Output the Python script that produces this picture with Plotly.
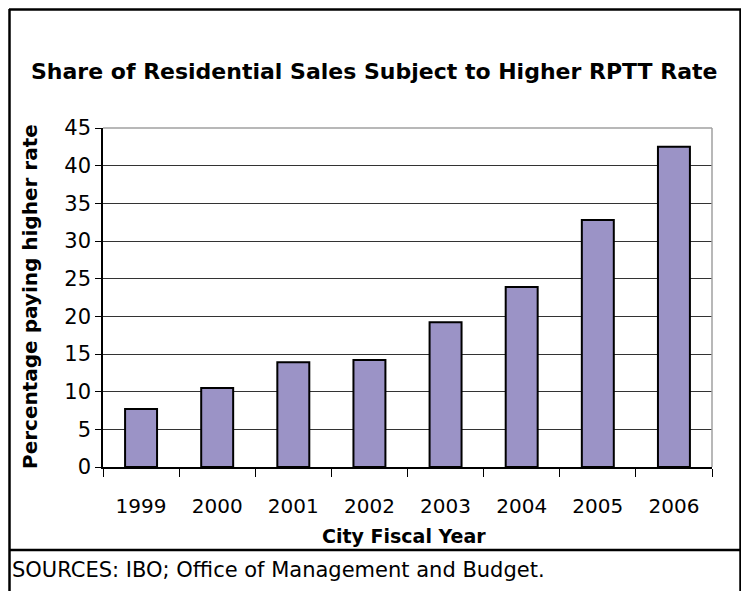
import plotly.graph_objects as go

years = ["1999", "2000", "2001", "2002", "2003", "2004", "2005", "2006"]
share = [7.7, 10.5, 13.9, 14.2, 19.2, 23.9, 32.8, 42.5]
y_ticks = [0, 5, 10, 15, 20, 25, 30, 35, 40, 45]

# page has an 8px body margin; work in page pixels and convert
OFF = 8
W, H = 749 - OFF, 591 - OFF
L, R, T, B = 103 - OFF, 712 - OFF, 128 - OFF, 467 - OFF
FONT = "DejaVu Sans"


def px(x):
    return (x - OFF - L) / (R - L)


def py(y):
    return (B - (y - OFF)) / (B - T)


fig = go.Figure(go.Bar(
    x=years, y=share,
    marker=dict(color="#9B93C6", line=dict(color="black", width=2)),
))

shapes = [
    dict(type="line", xref="paper", yref="paper", x0=0, x1=1, y0=1, y1=1,
         line=dict(color="#a0a0a0", width=1.5), layer="above"),
    dict(type="line", xref="paper", yref="paper", x0=1, x1=1, y0=0, y1=1,
         line=dict(color="#a0a0a0", width=1.5), layer="above"),
    dict(type="line", xref="paper", yref="paper", x0=px(9), x1=px(741), y0=py(9.5), y1=py(9.5),
         line=dict(color="black", width=2.5)),
    dict(type="line", xref="paper", yref="paper", x0=px(9.5), x1=px(9.5), y0=py(9), y1=py(600),
         line=dict(color="black", width=2.5)),
    dict(type="line", xref="paper", yref="paper", x0=px(740.5), x1=px(740.5), y0=py(9), y1=py(600),
         line=dict(color="black", width=2.5)),
    dict(type="line", xref="paper", yref="paper", x0=px(9), x1=px(741), y0=py(550), y1=py(550),
         line=dict(color="black", width=2.5)),
]

annotations = [
    dict(text="<b>Share of Residential Sales Subject to Higher RPTT Rate</b>",
         xref="paper", yref="paper", x=px(374), y=py(72), showarrow=False,
         xanchor="center", yanchor="middle", font=dict(family=FONT, size=22, color="black")),
    dict(text="<b>Percentage paying higher rate</b>", textangle=-90,
         xref="paper", yref="paper", x=px(30), y=py(297), showarrow=False,
         xanchor="center", yanchor="middle", font=dict(family=FONT, size=20, color="black")),
    dict(text="<b>City Fiscal Year</b>",
         xref="paper", yref="paper", x=px(404), y=py(536), showarrow=False,
         xanchor="center", yanchor="middle", font=dict(family=FONT, size=19, color="black")),
    dict(text="SOURCES: IBO; Office of Management and Budget.",
         xref="paper", yref="paper", x=px(10), y=py(570), showarrow=False,
         xanchor="left", yanchor="middle", font=dict(family=FONT, size=21, color="black")),
]

fig.update_layout(
    width=W, height=H,
    margin=dict(l=L, r=W - R, t=T, b=H - B, pad=0),
    paper_bgcolor="white", plot_bgcolor="white",
    showlegend=False, bargap=0.58,
    shapes=shapes, annotations=annotations,
    font=dict(family=FONT, color="black"),
)
fig.update_xaxes(
    type="category", showline=True, linecolor="black", linewidth=1.5,
    ticks="outside", tickson="boundaries", ticklen=8, tickcolor="black",
    tickfont=dict(family=FONT, size=20, color="black"), ticklabelstandoff=20,
    showgrid=False,
)
fig.update_yaxes(
    range=[0, 45], tickvals=y_ticks, showline=True, linecolor="black", linewidth=1.5,
    ticks="outside", ticklen=6, tickcolor="black",
    tickfont=dict(family=FONT, size=21, color="black"),
    showgrid=True, gridcolor="#333333", gridwidth=1, zeroline=False,
)

fig.write_html("out.html")
